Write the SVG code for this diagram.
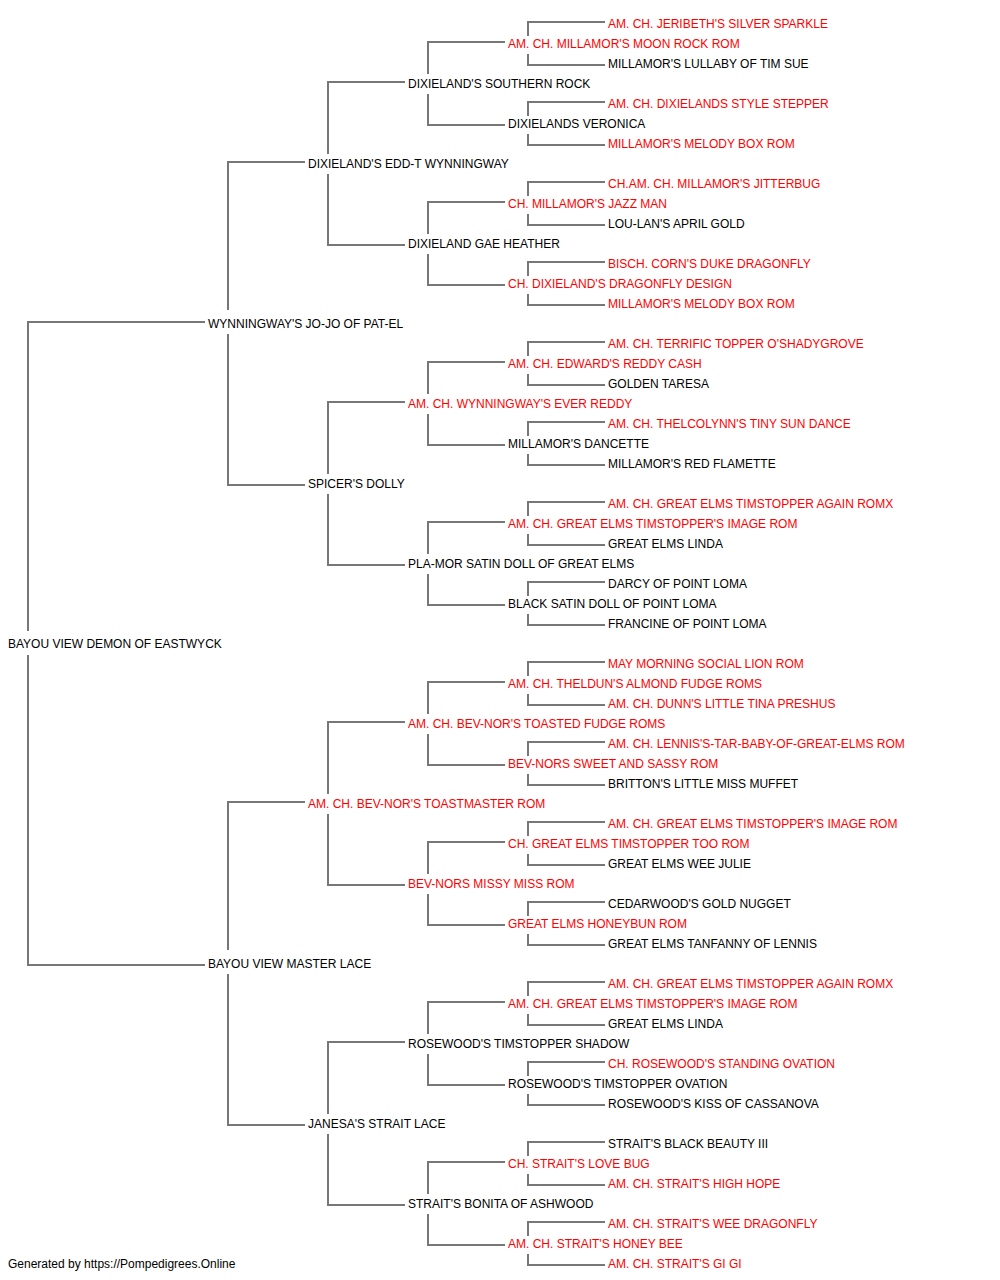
<svg xmlns="http://www.w3.org/2000/svg" width="1000" height="1280" viewBox="0 0 1000 1280">
<style>
text{font-family:"Liberation Sans",Arial,sans-serif;font-size:12px;fill:#000}
.r{fill:#ff0000}
.c path{fill:none;stroke:#777;stroke-width:2}
</style>
<rect width="1000" height="1280" fill="#fff"/>
<g class="c" id="connectors">
<path d="M205,322H28V631M28,655V965H205"/>
<path d="M305,162H228V310M228,334V485H305"/>
<path d="M305,802H228V950M228,974V1125H305"/>
<path d="M405,82H328V154M328,174V245H405"/>
<path d="M405,402H328V474M328,494V565H405"/>
<path d="M405,722H328V794M328,814V885H405"/>
<path d="M405,1042H328V1114M328,1134V1205H405"/>
<path d="M505,42H428V74M428,94V125H505"/>
<path d="M505,202H428V234M428,254V285H505"/>
<path d="M505,362H428V394M428,414V445H505"/>
<path d="M505,522H428V554M428,574V605H505"/>
<path d="M505,682H428V714M428,734V765H505"/>
<path d="M505,842H428V874M428,894V925H505"/>
<path d="M505,1002H428V1034M428,1054V1085H505"/>
<path d="M505,1162H428V1194M428,1214V1245H505"/>
<path d="M605,22H528V36M528,54V65H605"/>
<path d="M605,102H528V116M528,134V145H605"/>
<path d="M605,182H528V196M528,214V225H605"/>
<path d="M605,262H528V276M528,294V305H605"/>
<path d="M605,342H528V356M528,374V385H605"/>
<path d="M605,422H528V436M528,454V465H605"/>
<path d="M605,502H528V516M528,534V545H605"/>
<path d="M605,582H528V596M528,614V625H605"/>
<path d="M605,662H528V676M528,694V705H605"/>
<path d="M605,742H528V756M528,774V785H605"/>
<path d="M605,822H528V836M528,854V865H605"/>
<path d="M605,902H528V916M528,934V945H605"/>
<path d="M605,982H528V996M528,1014V1025H605"/>
<path d="M605,1062H528V1076M528,1094V1105H605"/>
<path d="M605,1142H528V1156M528,1174V1185H605"/>
<path d="M605,1222H528V1236M528,1254V1265H605"/>
</g>
<g id="n0"><text x="8" y="648">BAYOU VIEW DEMON OF EASTWYCK</text></g>
<g id="n1"><text x="208" y="328">WYNNINGWAY'S JO-JO OF PAT-EL</text></g>
<g id="n2"><text x="208" y="968">BAYOU VIEW MASTER LACE</text></g>
<g id="n3"><text x="308" y="168">DIXIELAND'S EDD-T WYNNINGWAY</text></g>
<g id="n4"><text x="308" y="488">SPICER'S DOLLY</text></g>
<g id="n5"><text class="r" x="308" y="808">AM. CH. BEV-NOR'S TOASTMASTER ROM</text></g>
<g id="n6"><text x="308" y="1128">JANESA'S STRAIT LACE</text></g>
<g id="n7"><text x="408" y="88">DIXIELAND'S SOUTHERN ROCK</text></g>
<g id="n8"><text x="408" y="248">DIXIELAND GAE HEATHER</text></g>
<g id="n9"><text class="r" x="408" y="408">AM. CH. WYNNINGWAY'S EVER REDDY</text></g>
<g id="n10"><text x="408" y="568">PLA-MOR SATIN DOLL OF GREAT ELMS</text></g>
<g id="n11"><text class="r" x="408" y="728">AM. CH. BEV-NOR'S TOASTED FUDGE ROMS</text></g>
<g id="n12"><text class="r" x="408" y="888">BEV-NORS MISSY MISS ROM</text></g>
<g id="n13"><text x="408" y="1048">ROSEWOOD'S TIMSTOPPER SHADOW</text></g>
<g id="n14"><text x="408" y="1208">STRAIT'S BONITA OF ASHWOOD</text></g>
<g id="n15"><text class="r" x="508" y="48">AM. CH. MILLAMOR'S MOON ROCK ROM</text></g>
<g id="n16"><text x="508" y="128">DIXIELANDS VERONICA</text></g>
<g id="n17"><text class="r" x="508" y="208">CH. MILLAMOR'S JAZZ MAN</text></g>
<g id="n18"><text class="r" x="508" y="288">CH. DIXIELAND'S DRAGONFLY DESIGN</text></g>
<g id="n19"><text class="r" x="508" y="368">AM. CH. EDWARD'S REDDY CASH</text></g>
<g id="n20"><text x="508" y="448">MILLAMOR'S DANCETTE</text></g>
<g id="n21"><text class="r" x="508" y="528">AM. CH. GREAT ELMS TIMSTOPPER'S IMAGE ROM</text></g>
<g id="n22"><text x="508" y="608">BLACK SATIN DOLL OF POINT LOMA</text></g>
<g id="n23"><text class="r" x="508" y="688">AM. CH. THELDUN'S ALMOND FUDGE ROMS</text></g>
<g id="n24"><text class="r" x="508" y="768">BEV-NORS SWEET AND SASSY ROM</text></g>
<g id="n25"><text class="r" x="508" y="848">CH. GREAT ELMS TIMSTOPPER TOO ROM</text></g>
<g id="n26"><text class="r" x="508" y="928">GREAT ELMS HONEYBUN ROM</text></g>
<g id="n27"><text class="r" x="508" y="1008">AM. CH. GREAT ELMS TIMSTOPPER'S IMAGE ROM</text></g>
<g id="n28"><text x="508" y="1088">ROSEWOOD'S TIMSTOPPER OVATION</text></g>
<g id="n29"><text class="r" x="508" y="1168">CH. STRAIT'S LOVE BUG</text></g>
<g id="n30"><text class="r" x="508" y="1248">AM. CH. STRAIT'S HONEY BEE</text></g>
<g id="n31"><text class="r" x="608" y="28">AM. CH. JERIBETH'S SILVER SPARKLE</text></g>
<g id="n32"><text x="608" y="68">MILLAMOR'S LULLABY OF TIM SUE</text></g>
<g id="n33"><text class="r" x="608" y="108">AM. CH. DIXIELANDS STYLE STEPPER</text></g>
<g id="n34"><text class="r" x="608" y="148">MILLAMOR'S MELODY BOX ROM</text></g>
<g id="n35"><text class="r" x="608" y="188">CH.AM. CH. MILLAMOR'S JITTERBUG</text></g>
<g id="n36"><text x="608" y="228">LOU-LAN'S APRIL GOLD</text></g>
<g id="n37"><text class="r" x="608" y="268">BISCH. CORN'S DUKE DRAGONFLY</text></g>
<g id="n38"><text class="r" x="608" y="308">MILLAMOR'S MELODY BOX ROM</text></g>
<g id="n39"><text class="r" x="608" y="348">AM. CH. TERRIFIC TOPPER O'SHADYGROVE</text></g>
<g id="n40"><text x="608" y="388">GOLDEN TARESA</text></g>
<g id="n41"><text class="r" x="608" y="428">AM. CH. THELCOLYNN'S TINY SUN DANCE</text></g>
<g id="n42"><text x="608" y="468">MILLAMOR'S RED FLAMETTE</text></g>
<g id="n43"><text class="r" x="608" y="508">AM. CH. GREAT ELMS TIMSTOPPER AGAIN ROMX</text></g>
<g id="n44"><text x="608" y="548">GREAT ELMS LINDA</text></g>
<g id="n45"><text x="608" y="588">DARCY OF POINT LOMA</text></g>
<g id="n46"><text x="608" y="628">FRANCINE OF POINT LOMA</text></g>
<g id="n47"><text class="r" x="608" y="668">MAY MORNING SOCIAL LION ROM</text></g>
<g id="n48"><text class="r" x="608" y="708">AM. CH. DUNN'S LITTLE TINA PRESHUS</text></g>
<g id="n49"><text class="r" x="608" y="748">AM. CH. LENNIS'S-TAR-BABY-OF-GREAT-ELMS ROM</text></g>
<g id="n50"><text x="608" y="788">BRITTON'S LITTLE MISS MUFFET</text></g>
<g id="n51"><text class="r" x="608" y="828">AM. CH. GREAT ELMS TIMSTOPPER'S IMAGE ROM</text></g>
<g id="n52"><text x="608" y="868">GREAT ELMS WEE JULIE</text></g>
<g id="n53"><text x="608" y="908">CEDARWOOD'S GOLD NUGGET</text></g>
<g id="n54"><text x="608" y="948">GREAT ELMS TANFANNY OF LENNIS</text></g>
<g id="n55"><text class="r" x="608" y="988">AM. CH. GREAT ELMS TIMSTOPPER AGAIN ROMX</text></g>
<g id="n56"><text x="608" y="1028">GREAT ELMS LINDA</text></g>
<g id="n57"><text class="r" x="608" y="1068">CH. ROSEWOOD'S STANDING OVATION</text></g>
<g id="n58"><text x="608" y="1108">ROSEWOOD'S KISS OF CASSANOVA</text></g>
<g id="n59"><text x="608" y="1148">STRAIT'S BLACK BEAUTY III</text></g>
<g id="n60"><text class="r" x="608" y="1188">AM. CH. STRAIT'S HIGH HOPE</text></g>
<g id="n61"><text class="r" x="608" y="1228">AM. CH. STRAIT'S WEE DRAGONFLY</text></g>
<g id="n62"><text class="r" x="608" y="1268">AM. CH. STRAIT'S GI GI</text></g>
<g id="footer"><text x="8" y="1268">Generated by https://Pompedigrees.Online</text></g>
</svg>
